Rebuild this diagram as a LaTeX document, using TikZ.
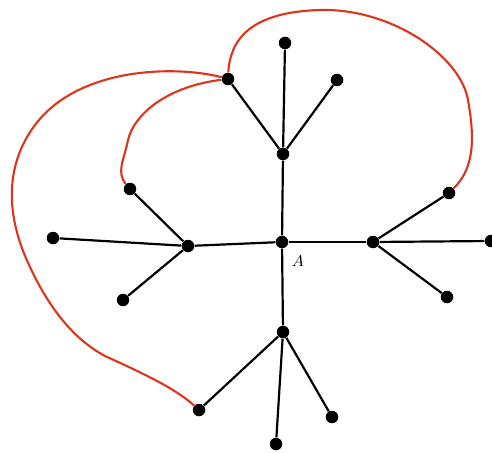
\documentclass[tikz,border=0pt]{standalone}
\usepackage{tikz}

\tikzset{
  dot/.style={circle, fill=black, inner sep=0pt, minimum size=0.25cm},
  edge/.style={line width=1.25pt},
  loopline/.style={line width=1.2pt, draw={rgb,255:red,222;green,52;blue,30}}
}

\begin{document}
\begin{tikzpicture}[x=0.02cm, y=-0.02cm, every node/.style={font=\small}]
  \useasboundingbox (0,0) rectangle (492,452);
  % centre and hubs
  \node[dot] (A) at (282,242) {};
  \node[dot] (ht) at (283,154) {};
  \node[dot] (hl) at (188,246) {};
  \node[dot] (hr) at (373,242) {};
  \node[dot] (hb) at (283,332) {};
  % leaves
  \node[dot] (t1) at (228,79) {};
  \node[dot] (t2) at (285,43) {};
  \node[dot] (t3) at (337,80) {};
  \node[dot] (l1) at (130,189) {};
  \node[dot] (l2) at (53,238) {};
  \node[dot] (l3) at (123,300) {};
  \node[dot] (r1) at (449,193) {};
  \node[dot] (r2) at (491,241) {};
  \node[dot] (r3) at (447,297) {};
  \node[dot] (b1) at (199,410) {};
  \node[dot] (b2) at (276,444) {};
  \node[dot] (b3) at (332,417) {};
  \node (lA) at (298,261) {$A$};

  % red curves
  \draw[loopline] (t1) .. controls (230,40) and (250,12) .. (320,10)
    .. controls (390,8) and (460,55) .. (468,100)
    .. controls (476,145) and (472,170) .. (r1);
  \draw[loopline] (t1) .. controls (180,66) and (80,65) .. (35,125)
    .. controls (5,165) and (5,215) .. (30,267)
    .. controls (50,310) and (75,340) .. (105,356)
    .. controls (140,372) and (175,388) .. (b1);
  \draw[loopline] (t1) .. controls (170,86) and (135,112) .. (128,140)
    .. controls (124,160) and (116,172) .. (l1);

  % tree edges
  \draw[edge] (A) -- (ht);
  \draw[edge] (A) -- (hl);
  \draw[edge] (A) -- (hr);
  \draw[edge] (A) -- (hb);
  \draw[edge] (ht) -- (t1);
  \draw[edge] (ht) -- (t2);
  \draw[edge] (ht) -- (t3);
  \draw[edge] (hl) -- (l1);
  \draw[edge] (hl) -- (l2);
  \draw[edge] (hl) -- (l3);
  \draw[edge] (hr) -- (r1);
  \draw[edge] (hr) -- (r2);
  \draw[edge] (hr) -- (r3);
  \draw[edge] (hb) -- (b1);
  \draw[edge] (hb) -- (b2);
  \draw[edge] (hb) -- (b3);
\end{tikzpicture}
\end{document}
